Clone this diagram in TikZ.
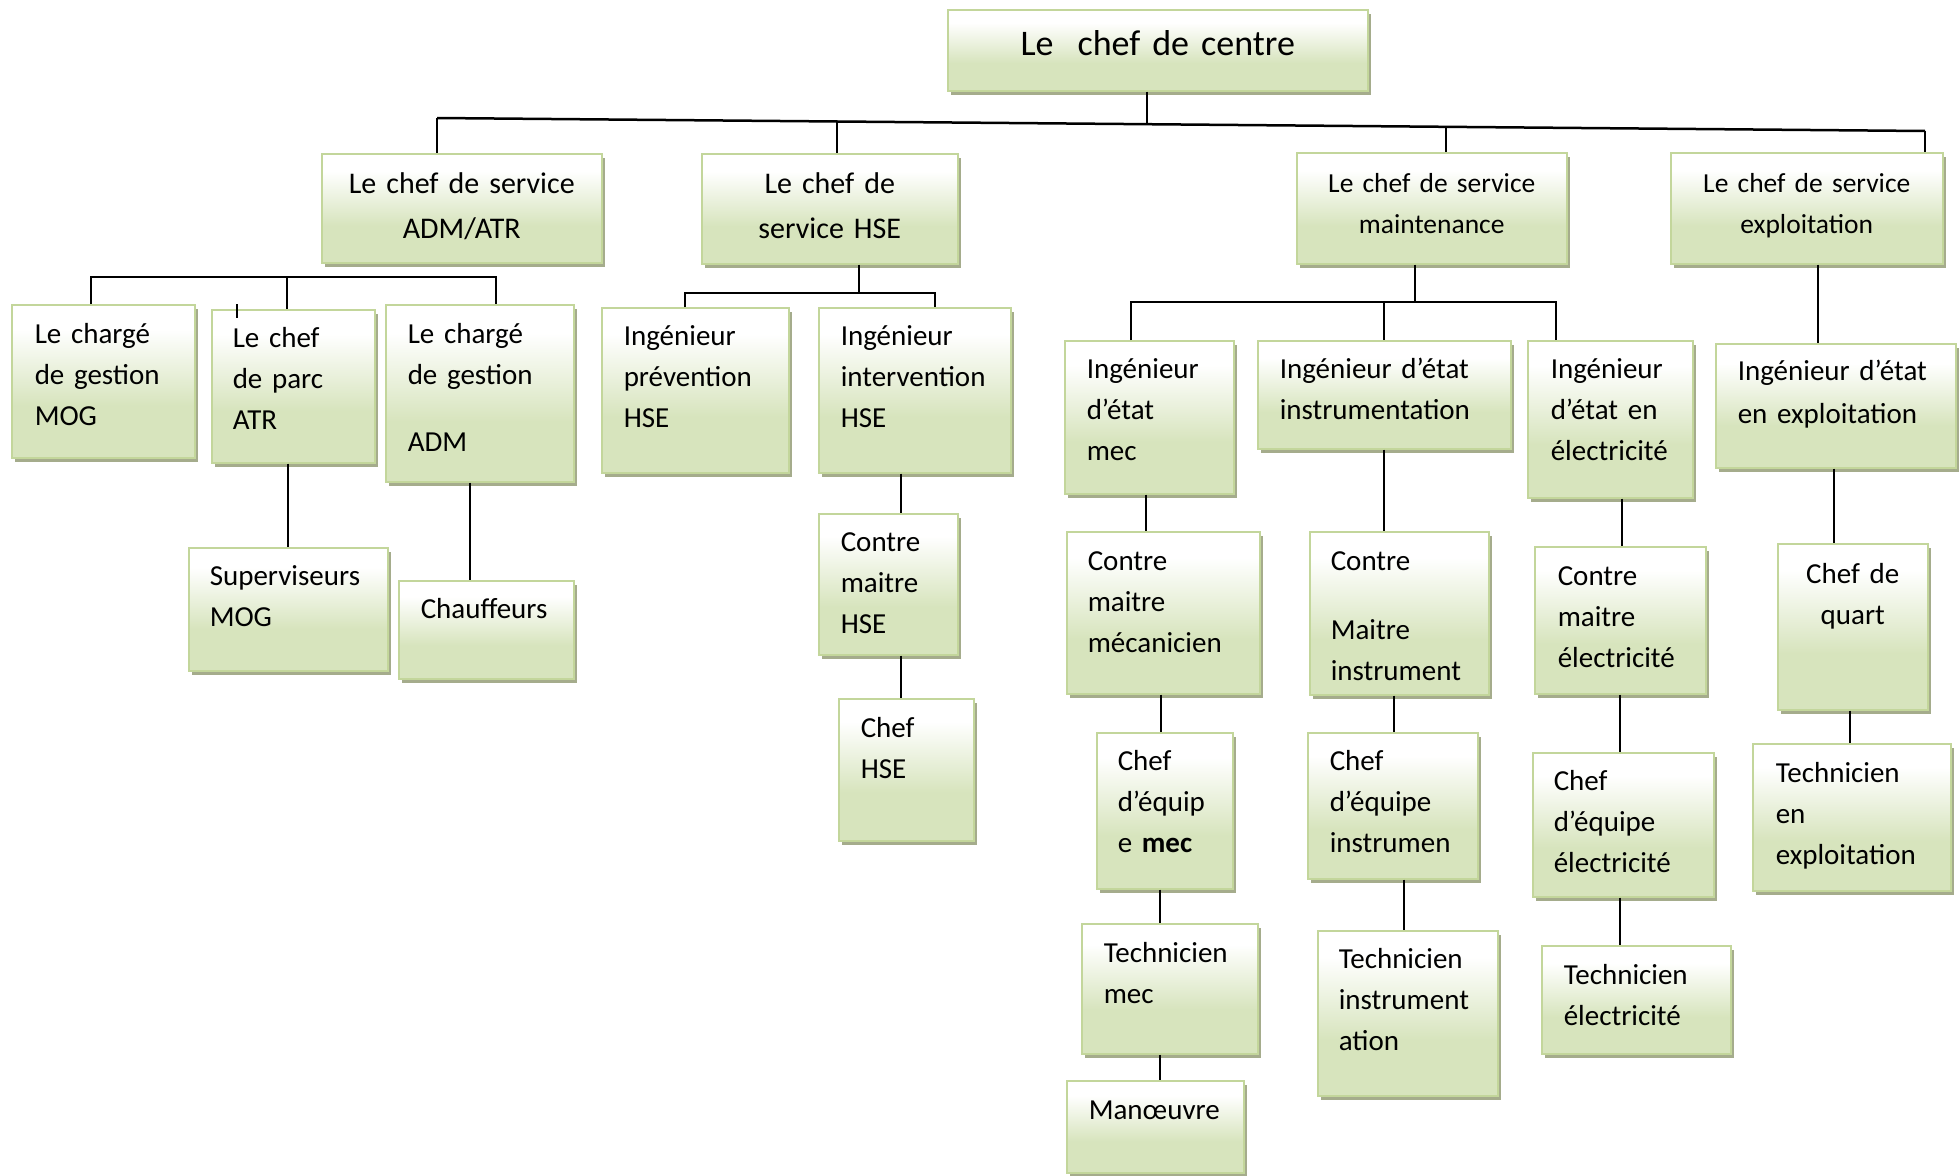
\documentclass[tikz,border=0pt]{standalone}
\usepackage{fontspec}
\setmainfont{Carlito}
\usetikzlibrary{shadows}
\definecolor{unitfill}{RGB}{215,228,189}
\definecolor{unitborder}{RGB}{195,214,155}
\definecolor{unitshadow}{RGB}{165,172,140}
\pgfdeclareverticalshading{unitshade}{100bp}{color(0bp)=(unitfill); color(42bp)=(unitfill); color(67bp)=(white); color(100bp)=(white)}
\hyphenpenalty=10000
\exhyphenpenalty=10000
\tikzstyle{unit} = [draw=unitborder, line width=1.5pt, shade, shading=unitshade, drop shadow={shadow xshift=3pt, shadow yshift=-4pt, fill=unitshadow, opacity=1}, anchor=north west, inner ysep=0pt, align=left, font=\fontsize{29pt}{41pt}\selectfont]
\tikzstyle{head} = [unit, align=center, font=\fontsize{30pt}{45pt}\selectfont]
\tikzstyle{link} = [line width=2pt]
\tikzstyle{bus} = [line width=2.5pt]
% box={width}{height}{left pad}{first baseline}
\tikzset{box/.code n args={4}{%
    \pgfmathsetmacro\unitw{#1-2*#3}%
    \pgfmathsetmacro\unitd{#2-#4}%
    \pgfkeysalso{inner xsep=#3pt, text width=\unitw pt, text height=#4pt, text depth=\unitd pt}}}

\begin{document}
\begin{tikzpicture}[x=1pt, y=-1pt]
    \useasboundingbox (0,0) rectangle (1959,1175);

    % Top
    \node[head, font=\fontsize{36pt}{43pt}\selectfont, box={420}{81}{0}{46}] (centre) at (947,9) {Le\ \ chef de centre};

    % Services
    \node[head, box={280}{109}{0}{40}] (adm) at (321,153) {Le chef de service\\ADM/ATR};
    \node[head, box={256}{110}{0}{40}] (hse) at (701,153) {Le chef de\\service HSE};
    \node[head, font=\fontsize{27.5pt}{41pt}\selectfont, box={270}{111}{0}{40}] (maint) at (1296,152) {Le chef de service\\maintenance};
    \node[head, font=\fontsize{27.5pt}{41pt}\selectfont, box={272}{111}{0}{40}] (exploit) at (1670,152) {Le chef de service\\exploitation};

    % ADM/ATR
    \node[unit, box={183}{153}{23}{39}] (mog) at (11,304) {Le chargé\\de gestion\\MOG};
    \node[unit, box={163}{153}{21}{38}] (parc) at (211,309) {Le chef\\de parc\\ATR};
    \node[unit, box={188}{177}{22}{39}] (gadm) at (385,304) {Le chargé\\de gestion\\[26pt]ADM};
    \node[unit, box={199}{123}{21}{38}] (superv) at (188,547) {Superviseurs\\MOG};
    \node[unit, box={175}{98}{22}{38}] (chauff) at (398,580) {Chauffeurs};

    % HSE
    \node[unit, box={187}{165}{22}{38}] (prev) at (601,307) {Ingénieur\\prévention\\HSE};
    \node[unit, box={192}{165}{22}{38}] (interv) at (818,307) {Ingénieur\\intervention\\HSE};
    \node[unit, box={139}{141}{22}{38}] (cmhse) at (818,513) {Contre\\maitre\\HSE};
    \node[unit, box={135}{142}{22}{39}] (chefhse) at (838,698) {Chef\\HSE};

    % Maintenance
    \node[unit, box={169}{153}{22}{38}] (imec) at (1064,340) {Ingénieur\\d’état\\mec};
    \node[unit, box={253}{108}{22}{38}] (iinstr) at (1257,340) {Ingénieur d’état\\instrumentation};
    \node[unit, box={165}{157}{23}{38}] (ielec) at (1527,340) {Ingénieur\\d’état en\\électricité};
    \node[unit, box={193}{162}{21}{39}] (cmmec) at (1066,531) {Contre\\maitre\\mécanicien};
    \node[unit, box={179}{163}{21}{39}] (cminstr) at (1309,531) {Contre\\[28pt]Maitre\\instrument};
    \node[unit, box={171}{147}{23}{39}] (cmelec) at (1534,546) {Contre\\maitre\\électricité};
    \node[unit, box={136}{156}{21}{38}] (cemec) at (1096,732) {Chef\\d’équip\\e \textbf{mec}};
    \node[unit, box={170}{146}{22}{38}] (ceinstr) at (1307,732) {Chef\\d’équipe\\instrumen};
    \node[unit, box={181}{144}{21}{38}] (ceelec) at (1532,752) {Chef\\d’équipe\\électricité};
    \node[unit, box={176}{130}{22}{39}] (techmec) at (1081,923) {Technicien\\mec};
    \node[unit, box={180}{165}{21}{38}] (techinstr) at (1317,930) {Technicien\\instrument\\ation};
    \node[unit, box={189}{108}{22}{39}] (techelec) at (1541,945) {Technicien\\électricité};
    \node[unit, box={177}{92}{22}{39}] (manoeuvre) at (1066,1080) {Manœuvre};

    % Exploitation
    \node[unit, font=\fontsize{29pt}{43pt}\selectfont, box={240}{124}{22}{37}] (iexpl) at (1715,343) {Ingénieur d’état\\en exploitation};
    \node[head, font=\fontsize{29pt}{41pt}\selectfont, box={150}{166}{0}{40}] (quart) at (1777,543) {Chef de\\quart};
    \node[unit, box={198}{147}{23}{39}] (techexpl) at (1752,743) {Technicien\\en\\exploitation};

    % Main bus
    \coordinate (busL) at (437,118);
    \coordinate (busR) at (1925,131);
    \coordinate (jtop) at (1147,124);
    \coordinate (jhse) at (837,121.5);
    \coordinate (jmaint) at (1446,127);
    \draw[bus] (busL) -- (busR);
    \draw[link] (centre.south -| jtop) -- (jtop);
    \draw[link] (busL) -- (adm.north -| busL);
    \draw[link] (jhse) -- (hse.north -| jhse);
    \draw[link] (jmaint) -- (maint.north -| jmaint);
    \draw[link] (busR) -- (exploit.north -| busR);

    % ADM/ATR links
    \coordinate (admL) at (91,277);
    \coordinate (admM) at (287,277);
    \coordinate (admR) at (496,277);
    \coordinate (parctick) at (237,304);
    \draw[link] (mog.north -| admL) -- (admL) -- (admR) -- (gadm.north -| admR);
    \draw[link] (admM) -- (parc.north -| admM);
    \draw[link] (parctick) -- ++(0,14);
    \draw[link] (parc.south -| superv.north) -- (superv.north);
    \draw[link] (gadm.south -| 470,0) -- (chauff.north -| 470,0);

    % HSE links
    \coordinate (hseL) at (685,293);
    \coordinate (hseM) at (859,293);
    \coordinate (hseR) at (935,293);
    \draw[link] (hse.south -| hseM) -- (hseM);
    \draw[link] (prev.north -| hseL) -- (hseL) -- (hseR) -- (interv.north -| hseR);
    \draw[link] (interv.south -| 901,0) -- (cmhse.north -| 901,0);
    \draw[link] (cmhse.south -| 901,0) -- (chefhse.north -| 901,0);

    % Maintenance links
    \coordinate (mtL) at (1131,302);
    \coordinate (mtM) at (1384,302);
    \coordinate (mtJ) at (1415,302);
    \coordinate (mtR) at (1556,302);
    \draw[link] (maint.south -| mtJ) -- (mtJ);
    \draw[link] (imec.north -| mtL) -- (mtL) -- (mtR) -- (ielec.north -| mtR);
    \draw[link] (mtM) -- (iinstr.north -| mtM);
    \draw[link] (imec.south -| 1146,0) -- (cmmec.north -| 1146,0);
    \draw[link] (cmmec.south -| 1161,0) -- (cemec.north -| 1161,0);
    \draw[link] (cemec.south -| 1160,0) -- (techmec.north -| 1160,0);
    \draw[link] (techmec.south -| 1160,0) -- (manoeuvre.north -| 1160,0);
    \draw[link] (iinstr.south -| 1384,0) -- (cminstr.north -| 1384,0);
    \draw[link] (cminstr.south -| 1394,0) -- (ceinstr.north -| 1394,0);
    \draw[link] (ceinstr.south -| 1404,0) -- (techinstr.north -| 1404,0);
    \draw[link] (ielec.south -| 1622,0) -- (cmelec.north -| 1622,0);
    \draw[link] (cmelec.south -| 1620,0) -- (ceelec.north -| 1620,0);
    \draw[link] (ceelec.south -| 1620,0) -- (techelec.north -| 1620,0);

    % Exploitation links
    \draw[link] (exploit.south -| 1818,0) -- (iexpl.north -| 1818,0);
    \draw[link] (iexpl.south -| 1834,0) -- (quart.north -| 1834,0);
    \draw[link] (quart.south -| 1850,0) -- (techexpl.north -| 1850,0);
\end{tikzpicture}
\end{document}
